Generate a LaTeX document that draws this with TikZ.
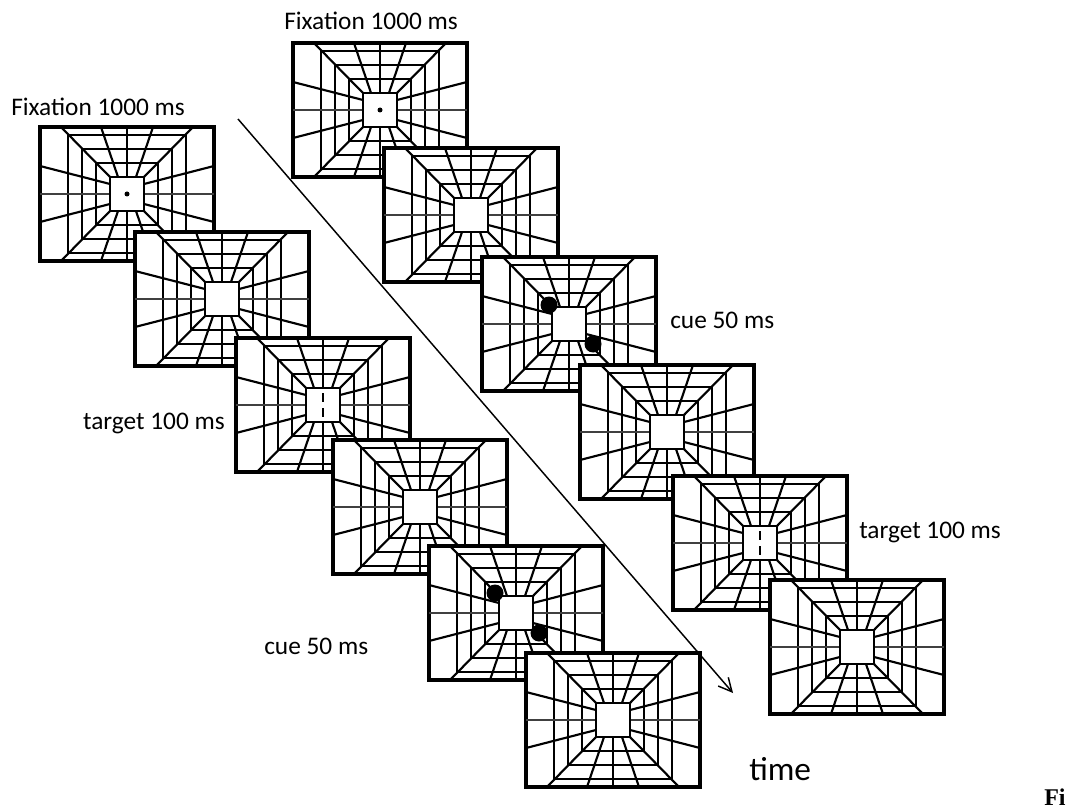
\documentclass[tikz,border=0pt]{standalone}
\usepackage{fontspec}
\setmainfont{Carlito}
\newfontfamily\figfont{Liberation Serif}
\usetikzlibrary{arrows.meta}

\begin{document}
\begin{tikzpicture}[
  x=0.75pt, y=-0.75pt,
  frame/.style={draw=black, fill=white, line width=2.3pt, line join=miter},
  grid/.style={draw=black, line width=1.6pt},
  thin grid/.style={draw=black!75, line width=1.2pt},
  label/.style={font=\fontsize{19}{19}\selectfont, inner sep=0pt},
  arr/.style={-{Straight Barb[length=10pt,width=10pt]}, line width=1.1pt},
  panel/.pic={
    \path[frame] (-87,-67) rectangle (87,67);
    \foreach \r in {31,45,59}
      \draw[grid] (-\r,-\r) rectangle (\r,\r);
    \foreach \sx in {-1,1} {
      \foreach \sy in {-1,1} {
        \draw[grid] (\sx*17,\sy*17) -- (\sx*66,\sy*67);
        \draw[grid] (\sx*9,\sy*17) -- (\sx*26,\sy*67);
        \draw[grid] (\sx*17,\sy*10) -- (\sx*87,\sy*28);
      }
      \draw[grid] (0,\sx*17) -- (0,\sx*67);
      \draw[thin grid] (\sx*17,0) -- (\sx*87,0);
    }
    \path[frame, line width=1.8pt] (-17,-17) rectangle (17,17);
  },
]
  \useasboundingbox (0,0) rectangle (1077,809);

  % left sequence
  \foreach \cx/\cy/\name in {127/194/la, 222/299/lb, 323/405/lc, 420/507/ld, 516/613/le, 613/720/lf}
    \pic (\name) at (\cx,\cy) {panel};
  % right sequence, drawn so that the later screens lie on top
  \foreach \cx/\cy/\name in {380/110/ra, 471/215/rb, 569/324/rc, 667/432/rd, 760/543/re, 857/647/rf}
    \pic (\name) at (\cx,\cy) {panel};

  % fixation dots
  \fill (127,194) circle (2.5);
  \fill (380,110) circle (2.5);
  % targets
  \draw[line width=1.5pt] (323,393) -- (323,402) (323,408) -- (323,417);
  \draw[line width=1.5pt] (760,531) -- (760,540) (760,546) -- (760,555);
  % cues
  \fill (549,305) circle (8.5);
  \fill (593,344) circle (8.5);
  \fill (495,593) circle (8.5);
  \fill (539,633) circle (8.5);

  \coordinate (start) at (238,119);
  \coordinate (end) at (733,693);
  \draw[arr] (start) -- (end);

  \node[label, anchor=west] (fixl) at (11,107) {Fixation 1000 ms};
  \node[label, anchor=west] (fixr) at (284,21) {Fixation 1000 ms};
  \node[label, anchor=east] (targl) at (225,423) {target 100 ms};
  \node[label, anchor=west] (targr) at (859,532) {target 100 ms};
  \node[label, anchor=west] (cuer) at (670,320) {cue 50 ms};
  \node[label, anchor=west] (cuel) at (264,646) {cue 50 ms};
  \node[font=\fontsize{25}{25}\selectfont, inner sep=0pt, anchor=west] (time) at (749,769) {time};
  \node[font=\figfont\bfseries\fontsize{18}{18}\selectfont, inner sep=0pt, anchor=west] (fi) at (1044,797) {Fi};
\end{tikzpicture}
\end{document}
